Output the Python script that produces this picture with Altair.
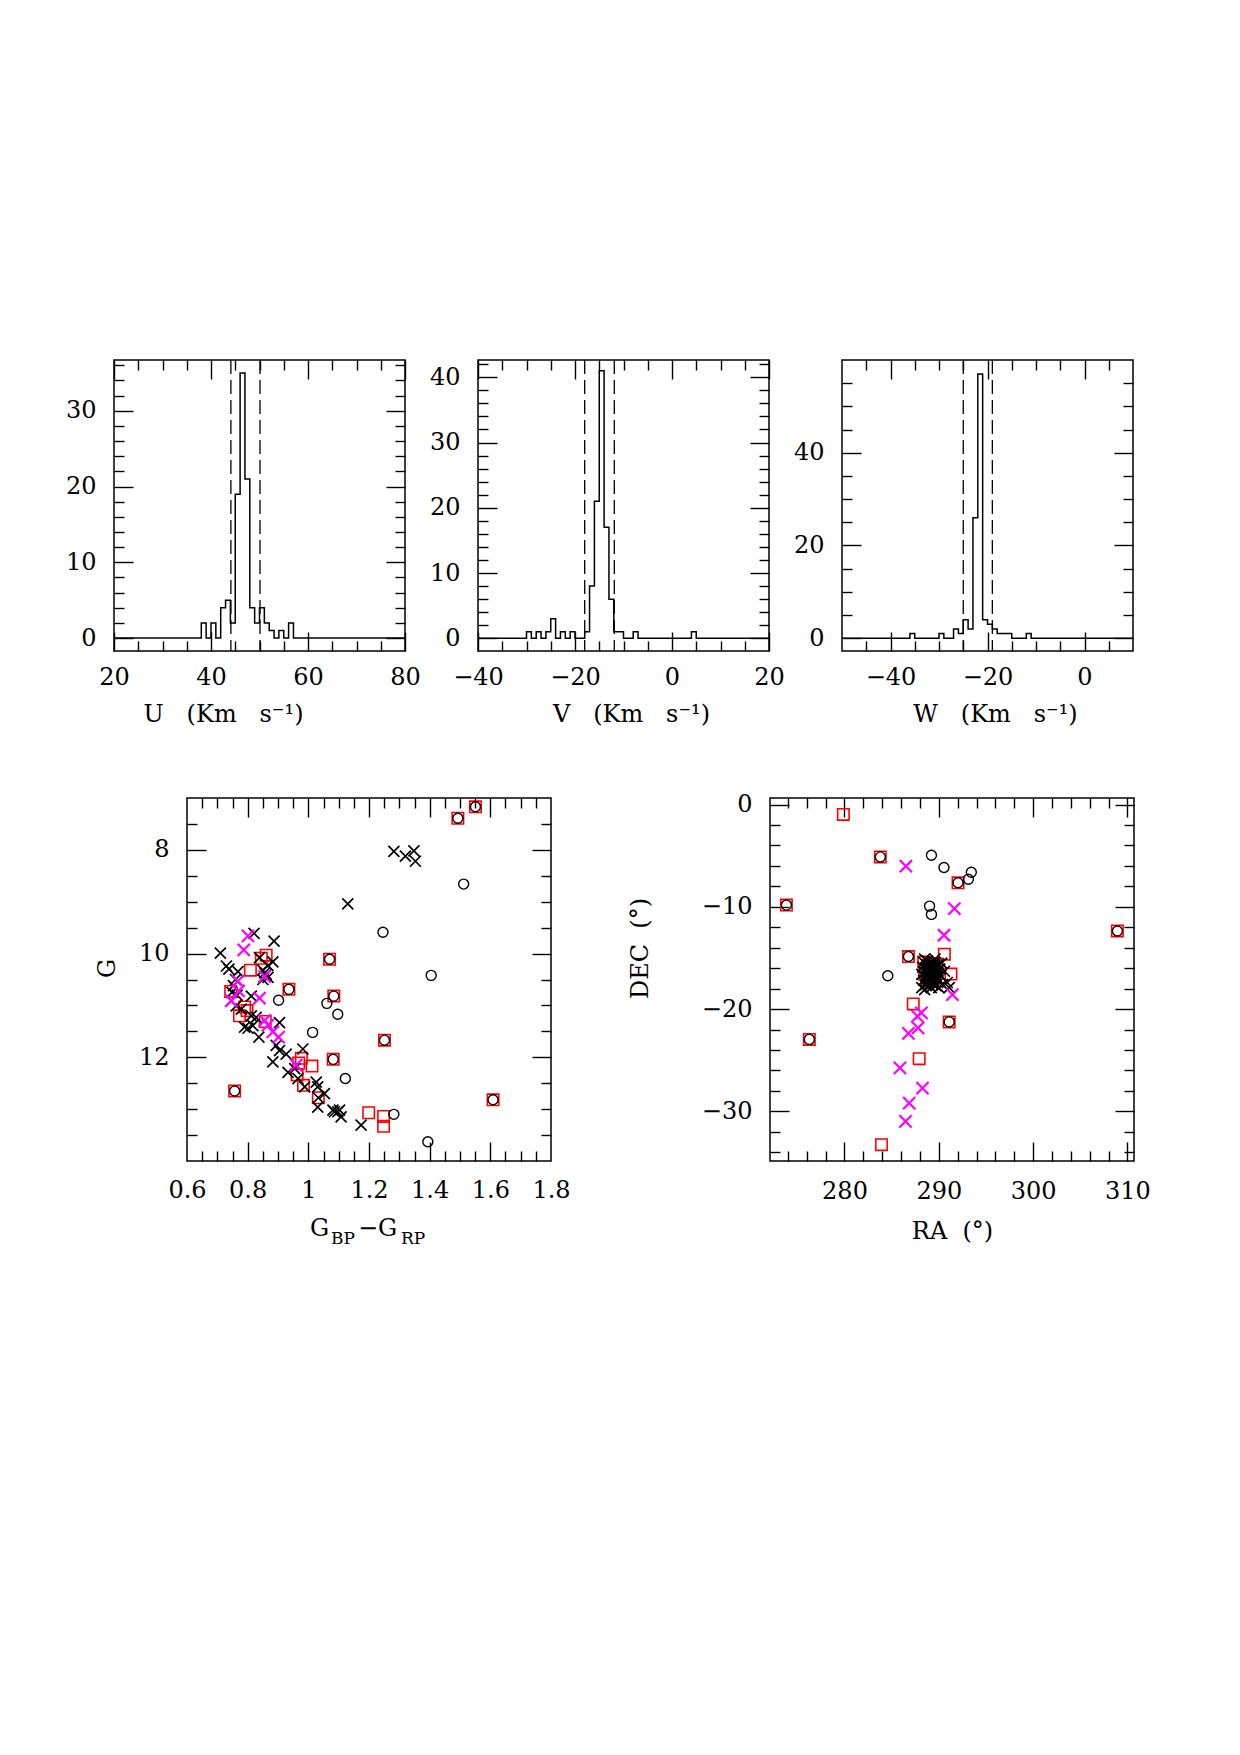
import altair as alt
import pandas as pd
import numpy as np

FONT = "DejaVu Serif"
FS = 24
XSHAPE = "M -1 -1 L 1 1 M -1 1 L 1 -1"
RED = "#ff0000"
MAGENTA = "#ff00ff"

# ---------------- velocity histograms ----------------
U_range = [20, 80]
U_ylim = [-1.7, 36.7]
U_edges = list(range(38, 58))
U_counts = [2, 0, 2, 0, 4, 5, 2, 19, 35, 21, 4, 2, 4, 2, 1, 0, 1, 0, 2]
U_dash = [44.1, 50.1]

V_range = [-40, 20]
V_ylim = [-1.95, 42.65]
V_edges = list(range(-30, 6))
V_counts = [1, 0, 1, 0, 1, 3, 0, 1, 0, 1,
            0, 0, 1, 8, 21, 41, 17, 6, 1, 1,
            0, 0, 1, 0, 0, 0, 0, 0, 0, 0,
            0, 0, 0, 0, 1]
V_dash = [-18.0, -11.9]

W_range = [-50, 10]
W_ylim = [-2.75, 60.0]
W_edges = list(range(-36, -10))
W_counts = [1, 0, 0, 0, 0, 0, 1, 0, 0, 2,
            1, 4, 2, 26, 57, 4, 3, 2, 1, 1,
            1, 0, 0, 0, 1]
W_dash = [-25.0, -19.0]

# ---------------- CMD (G vs BP-RP) ----------------
CMD_xcross_bp_rp = [0.710, 0.821, 0.887, 1.130, 1.282, 1.320, 1.348, 1.353,
                    0.738, 0.730, 0.768, 0.760, 0.753, 0.748, 0.765, 0.762, 0.779, 0.812,
                    0.839, 0.883, 0.850, 0.856, 0.861, 0.867, 0.850, 0.867, 0.828, 0.812,
                    0.790, 0.801, 0.817, 0.837, 0.905, 0.894, 0.905, 0.927, 0.883, 0.982,
                    0.933, 0.955, 0.966, 0.988, 1.026, 1.031, 1.053, 1.033, 1.031, 1.081,
                    1.086, 1.097, 1.103, 1.108, 1.174]
CMD_xcross_g = [9.99, 9.61, 9.76, 9.04, 8.03, 8.12, 8.02, 8.22,
                10.30, 10.24, 10.35, 10.50, 10.62, 10.75, 10.80, 11.01, 11.07, 10.82,
                10.08, 10.16, 10.32, 10.37, 10.40, 10.46, 10.50, 10.23, 11.23, 11.20,
                11.42, 11.44, 11.39, 11.61, 11.33, 11.77, 11.87, 11.94, 12.09, 11.84,
                12.29, 12.22, 12.41, 12.57, 12.48, 12.57, 12.70, 12.78, 12.96, 13.02,
                13.05, 13.05, 13.02, 13.15, 13.31]
CMD_mag_bp_rp = [0.801, 0.787, 0.856, 0.768, 0.770, 0.746, 0.839, 0.856, 0.867, 0.883, 0.902, 0.960]
CMD_mag_g = [9.66, 9.93, 10.44, 10.53, 10.72, 10.91, 10.86, 11.29, 11.38, 11.51, 11.61, 12.15]
CMD_circ_bp_rp = [1.512, 1.246, 1.405, 0.902, 1.061, 1.097, 1.014, 1.122, 1.282, 1.394,
                  1.551, 1.493, 1.070, 0.936, 1.084, 1.251, 1.082, 0.757, 1.609]
CMD_circ_g = [8.66, 9.59, 10.42, 10.90, 10.96, 11.17, 11.52, 12.41, 13.10, 13.63,
              7.17, 7.39, 10.11, 10.69, 10.82, 11.67, 12.04, 12.65, 12.82]
CMD_sq_bp_rp = [1.551, 1.493, 1.070, 0.936, 1.084, 1.251, 1.082, 0.757, 1.609,
                0.861, 0.845, 0.809, 0.744, 0.790, 0.798, 0.773, 0.858, 0.977, 0.968,
                1.012, 0.963, 0.984, 1.033, 1.199, 1.248, 1.248]
CMD_sq_g = [7.17, 7.39, 10.11, 10.69, 10.82, 11.67, 12.04, 12.65, 12.82,
            10.03, 10.09, 10.32, 10.73, 11.03, 11.10, 11.20, 11.31, 12.02, 12.11,
            12.17, 12.34, 12.54, 12.78, 13.07, 13.14, 13.33]

# ---------------- sky positions ----------------
SKY_xcross_ra = [288.5, 289.6, 288.4, 288.8, 289.2, 289.6, 290.0, 290.3,
                 288.3, 288.7, 289.0, 289.3, 289.7, 290.1, 288.5, 288.9,
                 289.2, 289.5, 289.9, 288.2, 288.6, 289.0, 289.4, 289.8,
                 290.2, 288.4, 288.8, 289.1, 289.5, 289.9, 288.6, 289.0,
                 289.3, 289.7, 288.2, 290.4, 290.9, 291.1, 289.1, 289.3,
                 288.9, 289.6, 288.8, 289.5, 289.2, 288.5, 290.6, 290.0]
SKY_xcross_dec = [-15.1, -15.1, -15.4, -15.3, -15.5, -15.4, -15.6, -15.5,
                  -15.9, -16.0, -15.8, -16.0, -15.9, -16.1, -16.4, -16.3,
                  -16.5, -16.3, -16.5, -16.6, -16.8, -16.9, -16.8, -16.9,
                  -16.7, -17.2, -17.3, -17.1, -17.3, -17.2, -17.6, -17.7,
                  -17.5, -17.7, -17.9, -17.6, -17.4, -17.9, -16.2, -16.6,
                  -16.6, -16.6, -15.7, -15.7, -17.9, -18.1, -16.3, -17.9]
SKY_mag_ra = [286.51, 291.65, 290.55, 291.45, 288.16, 287.73, 287.80, 286.78, 285.88, 288.27, 286.86, 286.47]
SKY_mag_dec = [-6.03, -10.18, -12.78, -18.59, -20.37, -20.69, -21.83, -22.38, -25.75, -27.73, -29.19, -30.98]
SKY_circ_ra = [273.84, 283.80, 276.27, 286.78, 292.04, 291.10, 308.94,
               284.59, 289.22, 290.55, 293.45, 293.14, 289.02, 289.22,
               289.0, 289.5, 288.8, 289.2, 289.9, 288.9]
SKY_circ_dec = [-9.83, -5.12, -22.96, -14.86, -7.65, -21.25, -12.36,
                -16.74, -4.96, -6.16, -6.62, -7.30, -9.93, -10.74,
                -16.0, -17.0, -17.3, -16.5, -16.8, -15.7]
SKY_sq_ra = [273.84, 283.80, 276.27, 286.78, 292.04, 291.10, 308.94,
             279.88, 290.59, 291.29, 287.29, 287.92, 283.92,
             288.5, 288.4, 289.8, 289.0, 289.5, 288.8]
SKY_sq_dec = [-9.83, -5.12, -22.96, -14.86, -7.65, -21.25, -12.36,
              -0.97, -14.63, -16.57, -19.49, -24.85, -33.25,
              -16.6, -15.4, -15.6, -16.0, -17.0, -17.3]

# ---------------- axes ----------------
U_xticks = list(range(20, 81, 5)); U_xlabels = [20, 40, 60, 80]
U_yticks = list(range(0, 37, 2)); U_ylabels = [0, 10, 20, 30]
V_xticks = list(range(-40, 21, 5)); V_xlabels = [-40, -20, 0, 20]
V_yticks = list(range(0, 43, 2)); V_ylabels = [0, 10, 20, 30, 40]
W_xticks = list(range(-45, 10, 5)); W_xlabels = [-40, -20, 0]
W_yticks = list(range(0, 60, 5)); W_ylabels = [0, 20, 40]
CMD_range = [0.6, 1.8]; CMD_ylim = [7, 14]
CMD_xticks = [round(v, 2) for v in np.arange(0.65, 1.79, 0.05)]
CMD_xlabels = [0.6, 0.8, 1.0, 1.2, 1.4, 1.6, 1.8]
CMD_yticks = [round(v, 2) for v in np.arange(7.5, 13.9, 0.5)]
CMD_ylabels = [8, 10, 12]
SKY_range = [272.1, 310.7]; SKY_ylim = [-34.85, 0.64]
SKY_xticks = list(range(274, 311, 2)); SKY_xlabels = [280, 290, 300, 310]
SKY_yticks = list(range(-34, 1, 2)); SKY_ylabels = [0, -10, -20, -30]


def tick_axis(orient, offset, values, step):
    cond = {"condition": {"test": f"abs(datum.value/{step} - round(datum.value/{step})) < 0.001",
                          "value": 19}, "value": 10}
    return alt.Axis(orient=orient, offset=offset, values=values, labels=False, title=None,
                    domain=False, grid=False, ticks=True, tickSize=cond,
                    tickColor="black", tickWidth=1.4)


def panel(data_layers, xdom, ydom, xticks, xstep, yticks, ystep, xlabels, ylabels,
          W, H, xlabpad, xfmt="d", xtitle=None, ytitle=None, yreverse=False, extra=()):
    xs = alt.Scale(domain=xdom, nice=False, zero=False)
    ys = alt.Scale(domain=ydom, nice=False, zero=False, reverse=yreverse)
    frame_df = pd.DataFrame({"x": xdom, "y": ydom})

    xkw = dict(orient="bottom", values=xlabels, ticks=False, tickSize=0, domain=False, grid=False,
               labelPadding=xlabpad, labelBaseline="alphabetic", format=xfmt,
               labelFlush=False, labelOverlap=False)
    if xtitle:
        xkw.update(title=xtitle[0], titleX=xtitle[1], titleY=xtitle[2], titleAlign="center",
                   titleBaseline="alphabetic")
    else:
        xkw.update(title=None)
    ykw = dict(orient="left", values=ylabels, ticks=False, tickSize=0, domain=False, grid=False,
               labelPadding=18, format="d", labelFlush=False, labelOverlap=False)
    if ytitle:
        ykw.update(title=ytitle[0], titleX=ytitle[1], titleY=ytitle[2], titleAlign="center",
                   titleBaseline="alphabetic", titleAngle=270)
    else:
        ykw.update(title=None)

    lab = alt.Chart(frame_df).mark_point(opacity=0).encode(
        x=alt.X("x:Q", scale=xs, axis=alt.Axis(**xkw)),
        y=alt.Y("y:Q", scale=ys, axis=alt.Axis(**ykw)))
    t1 = alt.Chart(frame_df).mark_point(opacity=0).encode(
        x=alt.X("x:Q", scale=xs, axis=tick_axis("top", -H, xticks, xstep)),
        y=alt.Y("y:Q", scale=ys, axis=tick_axis("right", -W, yticks, ystep)))
    t2 = alt.Chart(frame_df).mark_point(opacity=0).encode(
        x=alt.X("x:Q", scale=xs, axis=tick_axis("bottom", -H, xticks, xstep)),
        y=alt.Y("y:Q", scale=ys, axis=tick_axis("left", -W, yticks, ystep)))
    layers = [lab, t1, t2]
    for build in data_layers:
        layers.append(build(xs, ys))
    layers.extend(extra)
    return alt.layer(*layers).resolve_axis(x="independent", y="independent").properties(width=W, height=H)


def hist_layers(rng, edges, counts, dash):
    xv = [rng[0]] + list(edges) + [rng[1]]
    yv = [0] + list(counts) + [0, 0]
    df = pd.DataFrame({"x": xv, "y": yv})
    ddf = pd.DataFrame({"d": dash})

    def line(xs, ys):
        return alt.Chart(df).mark_line(interpolate="step-after", color="black", strokeWidth=1.5).encode(
            x=alt.X("x:Q", scale=xs, axis=None), y=alt.Y("y:Q", scale=ys, axis=None))

    def rules(xs, ys):
        return alt.Chart(ddf).mark_rule(color="black", strokeDash=[14, 6], strokeWidth=1.3).encode(
            x=alt.X("d:Q", scale=xs, axis=None))
    return [line, rules]


def pts(xv, yv, shape, size, color, sw):
    df = pd.DataFrame({"x": xv, "y": yv})

    def build(xs, ys):
        return alt.Chart(df).mark_point(shape=shape, size=size, filled=False, color=color,
                                        strokeWidth=sw, opacity=1).encode(
            x=alt.X("x:Q", scale=xs, axis=None), y=alt.Y("y:Q", scale=ys, axis=None))
    return build


NB = "\u00a0"
U_title = "U" + NB * 3 + "(Km" + NB * 3 + "s\u207b\u00b9)"
V_title = "V" + NB * 3 + "(Km" + NB * 3 + "s\u207b\u00b9)"
W_title = "W" + NB * 3 + "(Km" + NB * 3 + "s\u207b\u00b9)"

TW, TH = 291, 291
BW, BH = 364, 363

U = panel(hist_layers(U_range, U_edges, U_counts, U_dash), U_range, U_ylim, U_xticks, 20, U_yticks, 10,
          U_xlabels, U_ylabels, TW, TH, 33, xtitle=(U_title, 109, 70))
V = panel(hist_layers(V_range, V_edges, V_counts, V_dash), V_range, V_ylim, V_xticks, 20, V_yticks, 10,
          V_xlabels, V_ylabels, TW, TH, 33, xtitle=(V_title, 153, 70))
W = panel(hist_layers(W_range, W_edges, W_counts, W_dash), W_range, W_ylim, W_xticks, 20, W_yticks, 20,
          W_xlabels, W_ylabels, TW, TH, 33, xtitle=(W_title, 153, 70))

one = pd.DataFrame({"a": [0]})


def txt(s, px, py, size):
    return alt.Chart(one).mark_text(text=s, font=FONT, fontSize=size, align="left",
                                    baseline="alphabetic", color="black").encode(
        x=alt.value(px), y=alt.value(py))


cmd_title = [txt("G", 123, BH + 75, FS), txt("BP", 144, BH + 83, 17),
             txt("\u2212G", 171, BH + 75, FS), txt("RP", 214, BH + 83, 17)]

CMD = panel([pts(CMD_sq_bp_rp, CMD_sq_g, "square", 130, RED, 1.6),
             pts(CMD_circ_bp_rp, CMD_circ_g, "circle", 100, "black", 1.4),
             pts(CMD_xcross_bp_rp, CMD_xcross_g, XSHAPE, 121, "black", 1.7),
             pts(CMD_mag_bp_rp, CMD_mag_g, XSHAPE, 150, MAGENTA, 2.2)],
            CMD_range, CMD_ylim, CMD_xticks, 0.2, CMD_yticks, 2, CMD_xlabels, CMD_ylabels,
            BW, BH, 36, xfmt="~g", ytitle=("G", -73, 170), yreverse=True, extra=cmd_title)

SKY = panel([pts(SKY_sq_ra, SKY_sq_dec, "square", 130, RED, 1.6),
             pts(SKY_circ_ra, SKY_circ_dec, "circle", 100, "black", 1.4),
             pts(SKY_xcross_ra, SKY_xcross_dec, XSHAPE, 121, "black", 1.7),
             pts(SKY_mag_ra, SKY_mag_dec, XSHAPE, 150, MAGENTA, 2.2)],
            SKY_range, SKY_ylim, SKY_xticks, 10, SKY_yticks, 10, SKY_xlabels, SKY_ylabels,
            BW, BH, 37, xtitle=("RA" + NB * 2 + "(\u00b0)", 182, 77),
            ytitle=("DEC" + NB * 2 + "(\u00b0)", -123, 150))

spacer = alt.Chart(one).mark_point(opacity=0).encode(
    x=alt.X("a:Q", axis=None), y=alt.Y("a:Q", axis=None)).properties(
    width=73, height=50, view=alt.ViewBackground(strokeOpacity=0))

top = alt.hconcat(U, V, W, spacing=73, bounds="flush")
bottom = alt.hconcat(spacer, alt.hconcat(CMD, SKY, spacing=219, bounds="flush"), spacing=0, bounds="flush")

chart = alt.vconcat(top, bottom, spacing=64, bounds="full").properties(
    padding={"left": 64, "top": 356, "right": 20, "bottom": 20}
).configure_view(stroke="black", strokeWidth=1.5).configure_axis(
    labelFont=FONT, labelFontSize=FS, titleFont=FONT, titleFontSize=FS, titleFontWeight="normal",
    labelColor="black", titleColor="black", tickColor="black")

chart.save("out.html", embed_options={"renderer": "svg", "actions": False})
